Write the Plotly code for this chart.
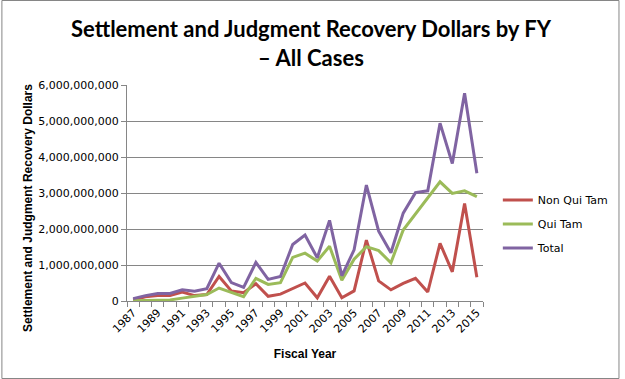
import plotly.graph_objects as go

years = list(range(1987, 2016))
non_qui_tam = [0.03, 0.12, 0.15, 0.15, 0.25, 0.15, 0.18, 0.68, 0.28, 0.23,
               0.48, 0.13, 0.19, 0.35, 0.50, 0.09, 0.69, 0.09, 0.28, 1.69,
               0.56, 0.31, 0.49, 0.63, 0.25, 1.60, 0.81, 2.71, 0.66]
qui_tam = [0.005, 0.01, 0.02, 0.03, 0.08, 0.14, 0.18, 0.36, 0.23, 0.12,
           0.63, 0.46, 0.51, 1.21, 1.33, 1.11, 1.52, 0.58, 1.16, 1.51,
           1.40, 1.06, 1.97, 2.42, 2.85, 3.31, 2.99, 3.06, 2.90]
total = [0.065, 0.15, 0.21, 0.21, 0.31, 0.27, 0.34, 1.05, 0.51, 0.38,
         1.07, 0.60, 0.68, 1.57, 1.83, 1.20, 2.24, 0.70, 1.42, 3.22,
         1.94, 1.34, 2.44, 3.01, 3.06, 4.94, 3.82, 5.77, 3.55]
series_names = ["Non Qui Tam", "Qui Tam", "Total"]
colors = ["#C0504D", "#9BBB59", "#8064A2"]
tick_years = list(range(1987, 2016, 2))

fig = go.Figure()
for name, vals, c in zip(series_names, [non_qui_tam, qui_tam, total], colors):
    fig.add_trace(go.Scatter(x=years, y=[v * 1e9 for v in vals], mode="lines",
                             name=name, legendgroup=name,
                             line=dict(color=c, width=3)))

W, H = 625, 379
L, R, T, B = 127, 138, 85, 78
pw, ph = W - L - R, H - T - B
tick_font = dict(family="DejaVu Sans", size=11, color="#000000")

fig.update_layout(
    width=W, height=H,
    margin=dict(l=L, r=R, t=T, b=B),
    paper_bgcolor="white", plot_bgcolor="white",
    font=dict(family="DejaVu Sans", size=11, color="#000000"),
    legend=dict(x=(502 - L) / pw, y=(301 - 224) / ph, xanchor="left", yanchor="middle",
                font=dict(family="DejaVu Sans", size=11), bgcolor="rgba(0,0,0,0)",
                tracegroupgap=5),
    xaxis=dict(range=[1986.5, 2015.5], tickmode="array", tickvals=tick_years,
               ticktext=[str(y) for y in tick_years], tickangle=-45, ticks="",
               tickfont=tick_font, automargin=False,
               showline=True, linecolor="#868686", linewidth=1, showgrid=False,
               zeroline=False,
               minor=dict(tickmode="linear", tick0=1986.5, dtick=1, ticks="outside",
                          ticklen=5, tickcolor="#868686", showgrid=False),
               title=dict(text="<b>Fiscal Year</b>",
                          font=dict(family="Liberation Sans", size=12), standoff=15)),
    yaxis=dict(range=[0, 6e9], dtick=1e9, tickformat=",d", showgrid=True,
               tickfont=tick_font, automargin=False, ticklabelstandoff=0,
               gridcolor="#868686", gridwidth=1, showline=True, linecolor="#868686",
               ticks="outside", ticklen=5, tickcolor="#868686", zeroline=False),
    annotations=[
        dict(text="<b>Settlement and Judgment Recovery Dollars by FY<br>– All Cases</b>",
             xref="paper", yref="paper", x=(314 - L) / pw,
             y=1 + (T - 13) / ph, xanchor="center", yanchor="top",
             showarrow=False, align="center",
             font=dict(family="Lato", size=22, color="#000000")),
        dict(text="<b>Settlement and Judgment Recovery Dollars</b>",
             xref="paper", yref="paper", x=(27 - L) / pw, y=(301 - 208) / ph,
             xanchor="center", yanchor="middle", textangle=-90, showarrow=False,
             font=dict(family="Liberation Sans", size=12, color="#000000")),
    ],
    shapes=[dict(type="rect", xref="paper", yref="paper",
                 x0=(0.5 - L) / pw, x1=(W - 0.5 - L) / pw,
                 y0=-(B - 0.5) / ph, y1=1 + (T - 0.5) / ph,
                 line=dict(color="#868686", width=1))],
)
fig.write_html("out.html", config={"displayModeBar": False},
               post_script="document.body.style.margin='0px';")
